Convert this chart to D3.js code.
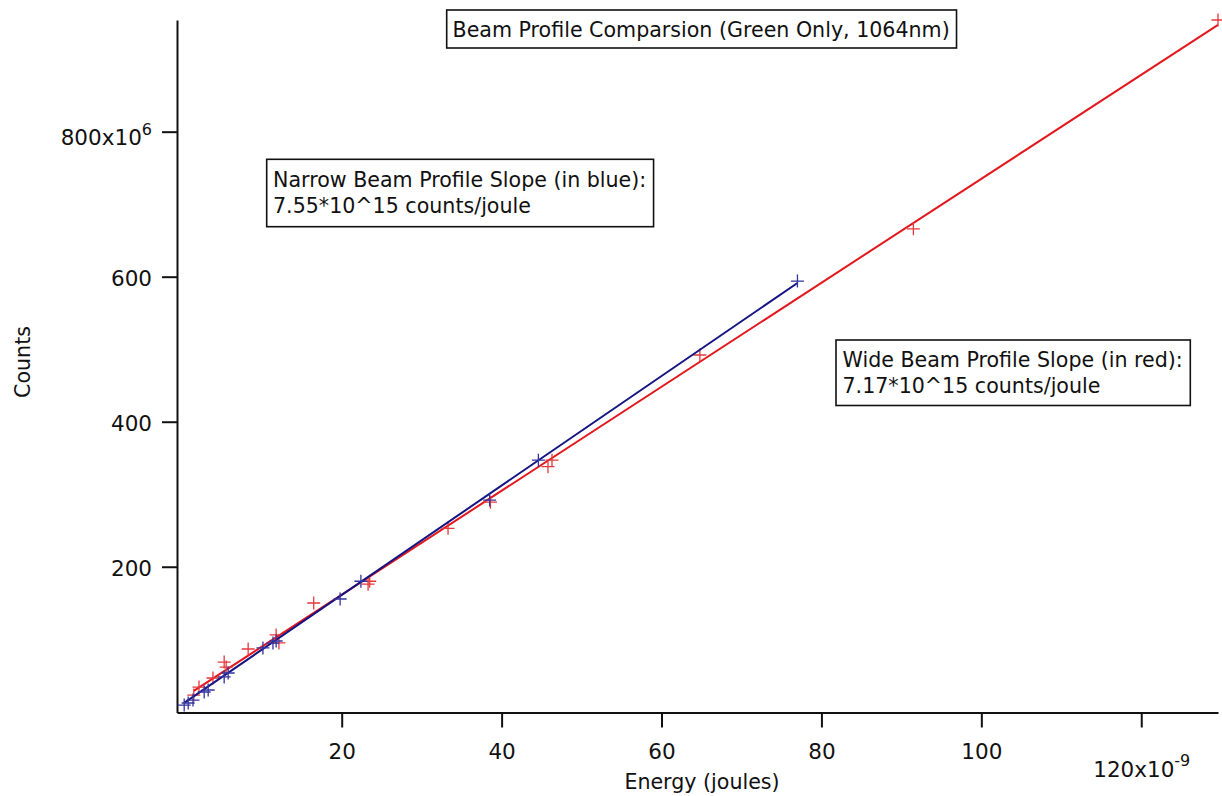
<!DOCTYPE html>
<html>
<head>
<meta charset="utf-8">
<script src="https://cdn.jsdelivr.net/npm/d3@7"></script>
<style>
  body { margin: 0; background: #fff; }
  text { font-family: "DejaVu Sans", sans-serif; fill: #111; }
</style>
</head>
<body>
<div id="chart-area"></div>
<script>
// energy in 1e-9 J, counts in 1e6
const wideEnergy  = [1.5, 2.15, 3.9, 5.3, 5.55, 8.3, 11.8, 12.15, 16.5, 23.3, 23.5, 33.3, 38.6, 45.8, 46.3, 64.8, 91.5, 129.6]
const wideCounts  = [23, 34, 46.6, 68.6, 61.7, 86.6, 106, 95, 150, 176, 180, 253, 289, 338, 347, 492, 666, 954]
const narrowEnergy = [0.3, 0.8, 1.4, 2.8, 3.3, 5.3, 5.8, 10.15, 11.4, 11.8, 19.8, 22.4, 38.5, 44.6, 77.0]
const narrowCounts = [9.3, 12.1, 16.2, 27.3, 30, 48, 53.5, 88, 94.8, 97.6, 155.5, 180, 292, 347, 594]

// fitted slopes (1e15 counts/joule) and intercepts (1e6 counts)
const wideSlope = 7.17, wideIntercept = 18
const narrowSlope = 7.55, narrowIntercept = 10

const xTicks = [20, 40, 60, 80, 100, 120]
const yTicks = [200, 400, 600, 800]
const xDomain = [-0.6, 129.6]
const yDomain = [-1, 954]

const W = 1222, H = 796
const MARGIN = { LEFT: 177, RIGHT: 4, TOP: 20, BOTTOM: 83.5 }
const WIDTH = W - MARGIN.LEFT - MARGIN.RIGHT
const HEIGHT = H - MARGIN.TOP - MARGIN.BOTTOM

const RED = "#e3171c", BLUE = "#141483"
const RED_MARK = "#e4393d", BLUE_MARK = "#3434a0"

const svg = d3.select("#chart-area").append("svg")
  .attr("width", W)
  .attr("height", H)

const g = svg.append("g")
  .attr("transform", `translate(${MARGIN.LEFT}, ${MARGIN.TOP})`)

const x = d3.scaleLinear().domain(xDomain).range([0, WIDTH])
const y = d3.scaleLinear().domain(yDomain).range([HEIGHT, 0])

// axes
const xAxisCall = d3.axisBottom(x)
  .tickValues(xTicks)
  .tickSize(15)
  .tickSizeOuter(0)
  .tickPadding(16.5)
  .tickFormat(d => d)

const xAxis = g.append("g")
  .attr("transform", `translate(0, ${HEIGHT})`)
  .call(xAxisCall)

const yAxisCall = d3.axisLeft(y)
  .tickValues(yTicks)
  .tickSize(15)
  .tickSizeOuter(0)
  .tickPadding(10)
  .tickFormat(d => d)

const yAxis = g.append("g").call(yAxisCall)

for (const ax of [xAxis, yAxis]) {
  ax.selectAll("path, line").attr("stroke", "#111").attr("stroke-width", 2)
  ax.selectAll("text").attr("font-size", 21.5).attr("font-family", "DejaVu Sans").attr("fill", "#111")
}
yAxis.selectAll("text").attr("dy", "0.4em")

// exponent labels on the last ticks
yAxis.selectAll(".tick text")
  .filter(d => d === yTicks[yTicks.length - 1])
  .attr("dy", "0.58em")
  .text(d => d + "x10")
  .append("tspan").attr("dy", "-0.6em").attr("font-size", 16).text("6")

xAxis.selectAll(".tick text")
  .filter(d => d === xTicks[xTicks.length - 1])
  .attr("dy", "1.52em")
  .text(d => d + "x10")
  .append("tspan").attr("dy", "-0.65em").attr("font-size", 16).text("-9")

// axis titles
g.append("text")
  .attr("x", 702 - MARGIN.LEFT)
  .attr("y", HEIGHT + 76.5)
  .attr("font-size", 20.6)
  .attr("text-anchor", "middle")
  .text("Energy (joules)")

svg.append("text")
  .attr("transform", `translate(30, 362) rotate(-90)`)
  .attr("font-size", 20.6)
  .attr("text-anchor", "middle")
  .text("Counts")

// fit lines and markers
function series(xs, ys, slope, intercept, lineColor, markColor) {
  const pts = xs.map((v, i) => ({ e: v, c: ys[i] }))
  const ext = d3.extent(xs)
  const line = d3.line().x(d => x(d)).y(d => y(slope * d + intercept))
  g.append("path")
    .datum(ext)
    .attr("d", line)
    .attr("fill", "none")
    .attr("stroke", lineColor)
    .attr("stroke-width", 2)
  const s = 6.5
  g.append("g").selectAll("path")
    .data(pts)
    .enter().append("path")
    .attr("d", d => `M${x(d.e) - s},${y(d.c)}H${x(d.e) + s}M${x(d.e)},${y(d.c) - s}V${y(d.c) + s}`)
    .attr("stroke", markColor)
    .attr("stroke-width", 1.3)
    .attr("fill", "none")
}
series(wideEnergy, wideCounts, wideSlope, wideIntercept, RED, RED_MARK)
series(narrowEnergy, narrowCounts, narrowSlope, narrowIntercept, BLUE, BLUE_MARK)

// annotation boxes
function textBox(left, top, h, lines, baselines, tx) {
  const box = svg.append("g")
  const rect = box.append("rect")
    .attr("x", left).attr("y", top).attr("height", h)
    .attr("fill", "#fff").attr("stroke", "#111").attr("stroke-width", 1.6)
  let maxW = 0
  lines.forEach((t, i) => {
    const el = box.append("text")
      .attr("x", tx).attr("y", baselines[i])
      .attr("font-size", 20.6)
      .text(t)
    maxW = Math.max(maxW, el.node().getComputedTextLength())
  })
  rect.attr("width", maxW + (tx - left) * 2 + 1)
}

textBox(446.7, 10, 38, ["Beam Profile Comparsion (Green Only, 1064nm)"], [37.3], 452.5)
textBox(266.7, 159.3, 67.4, ["Narrow Beam Profile Slope (in blue):", "7.55*10^15 counts/joule"], [186.7, 213.3], 273)
textBox(836, 340, 65.5, ["Wide Beam Profile Slope (in red):", "7.17*10^15 counts/joule"], [366.5, 393], 842.5)
</script>
</body>
</html>
